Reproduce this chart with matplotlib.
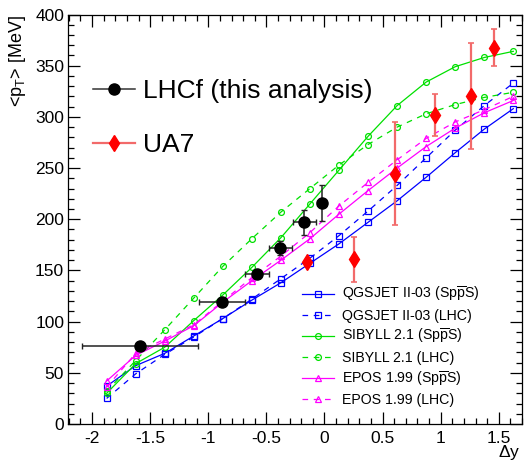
import numpy as np
import matplotlib
matplotlib.use('Agg')
import matplotlib.pyplot as plt
from matplotlib.ticker import MultipleLocator, FuncFormatter
from matplotlib.lines import Line2D

plt.rcParams['font.family'] = ['Liberation Sans', 'DejaVu Sans']
plt.rcParams['mathtext.fontset'] = 'custom'
plt.rcParams['mathtext.rm'] = 'Liberation Sans'
plt.rcParams['mathtext.it'] = 'Liberation Sans:italic'
plt.rcParams['axes.unicode_minus'] = False

# model curves (same rapidity bins for all)
dy_model = [-1.875, -1.625, -1.375, -1.125, -0.875, -0.625, -0.375, -0.125,
            0.125, 0.375, 0.625, 0.875, 1.125, 1.375, 1.625]
qgs_spps = [37, 57, 69, 86, 103, 121, 138, 157, 176, 197, 218, 241, 265, 288, 308]
qgs_lhc = [25, 49, 68, 85, 103, 122, 142, 162, 184, 208, 233, 260, 287, 311, 333]
sib_spps = [30, 59, 75, 101, 126, 153, 182, 215, 248, 281, 311, 334, 349, 358, 364]
sib_lhc = [32, 62, 92, 123, 154, 181, 207, 230, 253, 273, 290, 303, 312, 319, 324]
epos_spps = [42, 67, 81, 96, 119, 140, 160, 181, 205, 228, 250, 271, 289, 304, 316]
epos_lhc = [36, 69, 83, 97, 120, 143, 164, 187, 213, 236, 258, 279, 295, 307, 320]

# LHCf data
lhcf_dy = [-1.585, -0.88, -0.58, -0.38, -0.175, -0.025]
lhcf_pt = [76, 119, 146.5, 172, 197, 215.5]
lhcf_xerr = [0.5, 0.2, 0.1, 0.1, 0.1, 0.04]
lhcf_yerr = [1, 2, 3, 6.5, 12.5, 17.5]

# UA7 data
ua7_dy = [-0.148, 0.25, 0.605, 0.953, 1.258, 1.46]
ua7_pt = [158.5, 161, 244.5, 301.5, 320.5, 367.5]
ua7_yerr = [2, 22, 50.5, 20.5, 52, 18]

BLUE = '#0000ff'
GREEN = '#00e000'
MAGENTA = '#ff00ff'
SPPS = r'(Sp$\overline{\mathrm{p}}$S)'

fig = plt.figure(figsize=(5.24, 4.65), dpi=100)
ax = fig.add_axes([68.3 / 524, 1 - 424 / 465, (522 - 68.3) / 524, (424 - 14.5) / 465])

models = [
    (qgs_spps, BLUE, 's', '-', 'QGSJET II-03 ' + SPPS),
    (qgs_lhc, BLUE, 's', '--', 'QGSJET II-03 (LHC)'),
    (sib_spps, GREEN, 'o', '-', 'SIBYLL 2.1 ' + SPPS),
    (sib_lhc, GREEN, 'o', '--', 'SIBYLL 2.1 (LHC)'),
    (epos_spps, MAGENTA, '^', '-', 'EPOS 1.99 ' + SPPS),
    (epos_lhc, MAGENTA, '^', '--', 'EPOS 1.99 (LHC)'),
]
model_handles = []
for vals, col, mk, ls, lab in models:
    style = '-' if ls == '-' else (0, (4.5, 4.5))
    h, = ax.plot(dy_model, vals, color=col, lw=0.9, ls=style, marker=mk,
                 ms=5 if mk == '^' else 4.2, mfc='none', mec=col, mew=0.9,
                 label=lab, zorder=2)
    model_handles.append(h)

# data
ax.errorbar(ua7_dy, ua7_pt, yerr=ua7_yerr, fmt='none', ecolor='#f26a6a',
            elinewidth=1.6, capsize=2.5, capthick=1.2, zorder=3)
ax.plot(ua7_dy, ua7_pt, ls='none', marker='d', ms=8.5, color='red', zorder=4)
ax.errorbar(lhcf_dy, lhcf_pt, xerr=lhcf_xerr, yerr=lhcf_yerr, fmt='o',
            color='black', ecolor='#222222', ms=8, elinewidth=1.1,
            capsize=2, capthick=1.0, zorder=5)

ax.set_xlim(-2.205, 1.70)
ax.set_ylim(0, 400)
ax.xaxis.set_major_locator(MultipleLocator(0.5))
ax.xaxis.set_minor_locator(MultipleLocator(0.1))
ax.yaxis.set_major_locator(MultipleLocator(50))
ax.yaxis.set_minor_locator(MultipleLocator(10))
fmt = FuncFormatter(lambda v, p: '%g' % v)
ax.xaxis.set_major_formatter(fmt)
ax.yaxis.set_major_formatter(fmt)
ax.tick_params(which='both', direction='in', top=True, right=True, width=0.9)
ax.tick_params(which='major', length=8.6, labelsize=12.5)
ax.tick_params(axis='x', which='major', pad=5)
ax.tick_params(axis='y', which='major', pad=3)
ax.tick_params(which='minor', length=4.3)
for s in ax.spines.values():
    s.set_linewidth(0.9)

ax.set_ylabel(r'<p$_{\mathrm{T}}$> [MeV]', fontsize=13, loc='top')
ax.yaxis.set_label_coords(-0.088, 1.0)
ax.set_xlabel(r'$\Delta$y', fontsize=12.5, loc='right')
ax.xaxis.set_label_coords(0.996, -0.047)

# legends
leg1 = ax.legend(handles=model_handles, loc='upper left',
                 bbox_to_anchor=(0.515, 0.339), frameon=False, fontsize=10.2,
                 handlelength=2.25, handletextpad=0.55, labelspacing=0.31,
                 borderpad=0, borderaxespad=0)
ax.add_artist(leg1)
data_handles = [
    Line2D([], [], color='#333333', lw=1.1, marker='o', ms=8, mfc='black', mec='black'),
    Line2D([], [], color='#f26a6a', lw=1.6, marker='d', ms=8.5, mfc='red', mec='red'),
]
ax.legend(handles=data_handles, labels=['LHCf (this analysis)', 'UA7'],
          loc='upper left', bbox_to_anchor=(0.054, 0.843), frameon=False,
          fontsize=19, handlelength=1.6, handletextpad=0.3, labelspacing=1.16,
          borderpad=0, borderaxespad=0)

fig.savefig('out.png', dpi=100)
